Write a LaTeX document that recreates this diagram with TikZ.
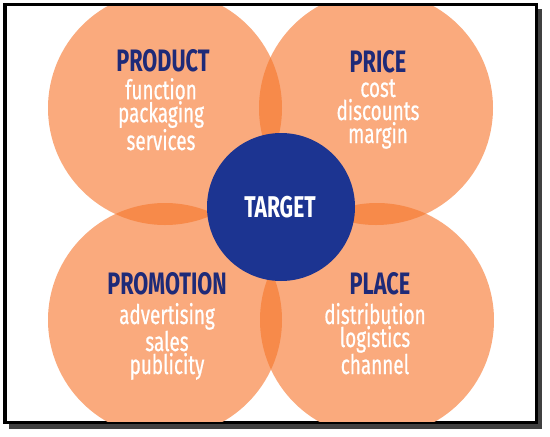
\documentclass[tikz,border=0pt]{standalone}
\usepackage{fontspec}
\newfontfamily\cond{Fira Sans}[FakeStretch=0.70]
\newfontfamily\condit{Fira Sans}[FakeStretch=0.70,FakeBold=0.6]
\definecolor{orlight}{RGB}{250,170,125}
\definecolor{ordark}{RGB}{247,138,74}
\definecolor{tblue}{RGB}{28,52,145}
\definecolor{tnavy}{RGB}{30,42,120}
\tikzset{
  petal/.style={circle,minimum size=234pt,inner sep=0pt,fill=orlight},
  hub/.style={circle,minimum size=148pt,inner sep=0pt,fill=tblue},
  ttl/.style={font=\cond\bfseries\fontsize{31}{31}\selectfont,text=tnavy,inner sep=0pt},
  itm/.style={font=\condit\fontsize{27}{23}\selectfont,text=white,align=center,inner sep=0pt},
  hubtxt/.style={font=\cond\bfseries\fontsize{30}{30}\selectfont,text=white,inner sep=0pt}
}
\begin{document}
\begin{tikzpicture}[x=1pt,y=-1pt]
\useasboundingbox (0,0) rectangle (550,437);
% frame with shadow
\fill[black!75] (9,9) rectangle (542,429);
\draw[line width=3.5pt,fill=white] (5,4.5) rectangle (536.5,422.5);
\begin{scope}
\clip (7,6.5) rectangle (535,421);
\node[petal] (product) at (165,108) {};
\node[petal] (price) at (376,108) {};
\node[petal] (promotion) at (165,320) {};
\node[petal] (place) at (377,320) {};
% overlaps
\begin{scope}
\clip (165,108) circle (117);
\fill[ordark] (376,108) circle (117);
\fill[ordark] (165,320) circle (117);
\end{scope}
\begin{scope}
\clip (377,320) circle (117);
\fill[ordark] (376,108) circle (117);
\fill[ordark] (165,320) circle (117);
\end{scope}
\end{scope}
\node[hub] (target) at (281,207) {};
\node[hubtxt] (targett) at (280,207) {TARGET};
% labels
\node[ttl,anchor=base] (tproduct) at (163,71) {PRODUCT};
\node[itm,anchor=base] (iproduct) at (161,150) {function\\packaging\\services};
\node[ttl,anchor=base] (tprice) at (378,72) {PRICE};
\node[itm,anchor=base] (iprice) at (378,143) {cost\\discounts\\margin};
\node[ttl,anchor=base] (tpromotion) at (167,294) {PROMOTION};
\node[itm,anchor=base] (ipromotion) at (167,374) {advertising\\sales\\publicity};
\node[ttl,anchor=base] (tplace) at (380,294) {PLACE};
\node[itm,anchor=base] (iplace) at (375,374) {distribution\\logistics\\channel};
\end{tikzpicture}
\end{document}
